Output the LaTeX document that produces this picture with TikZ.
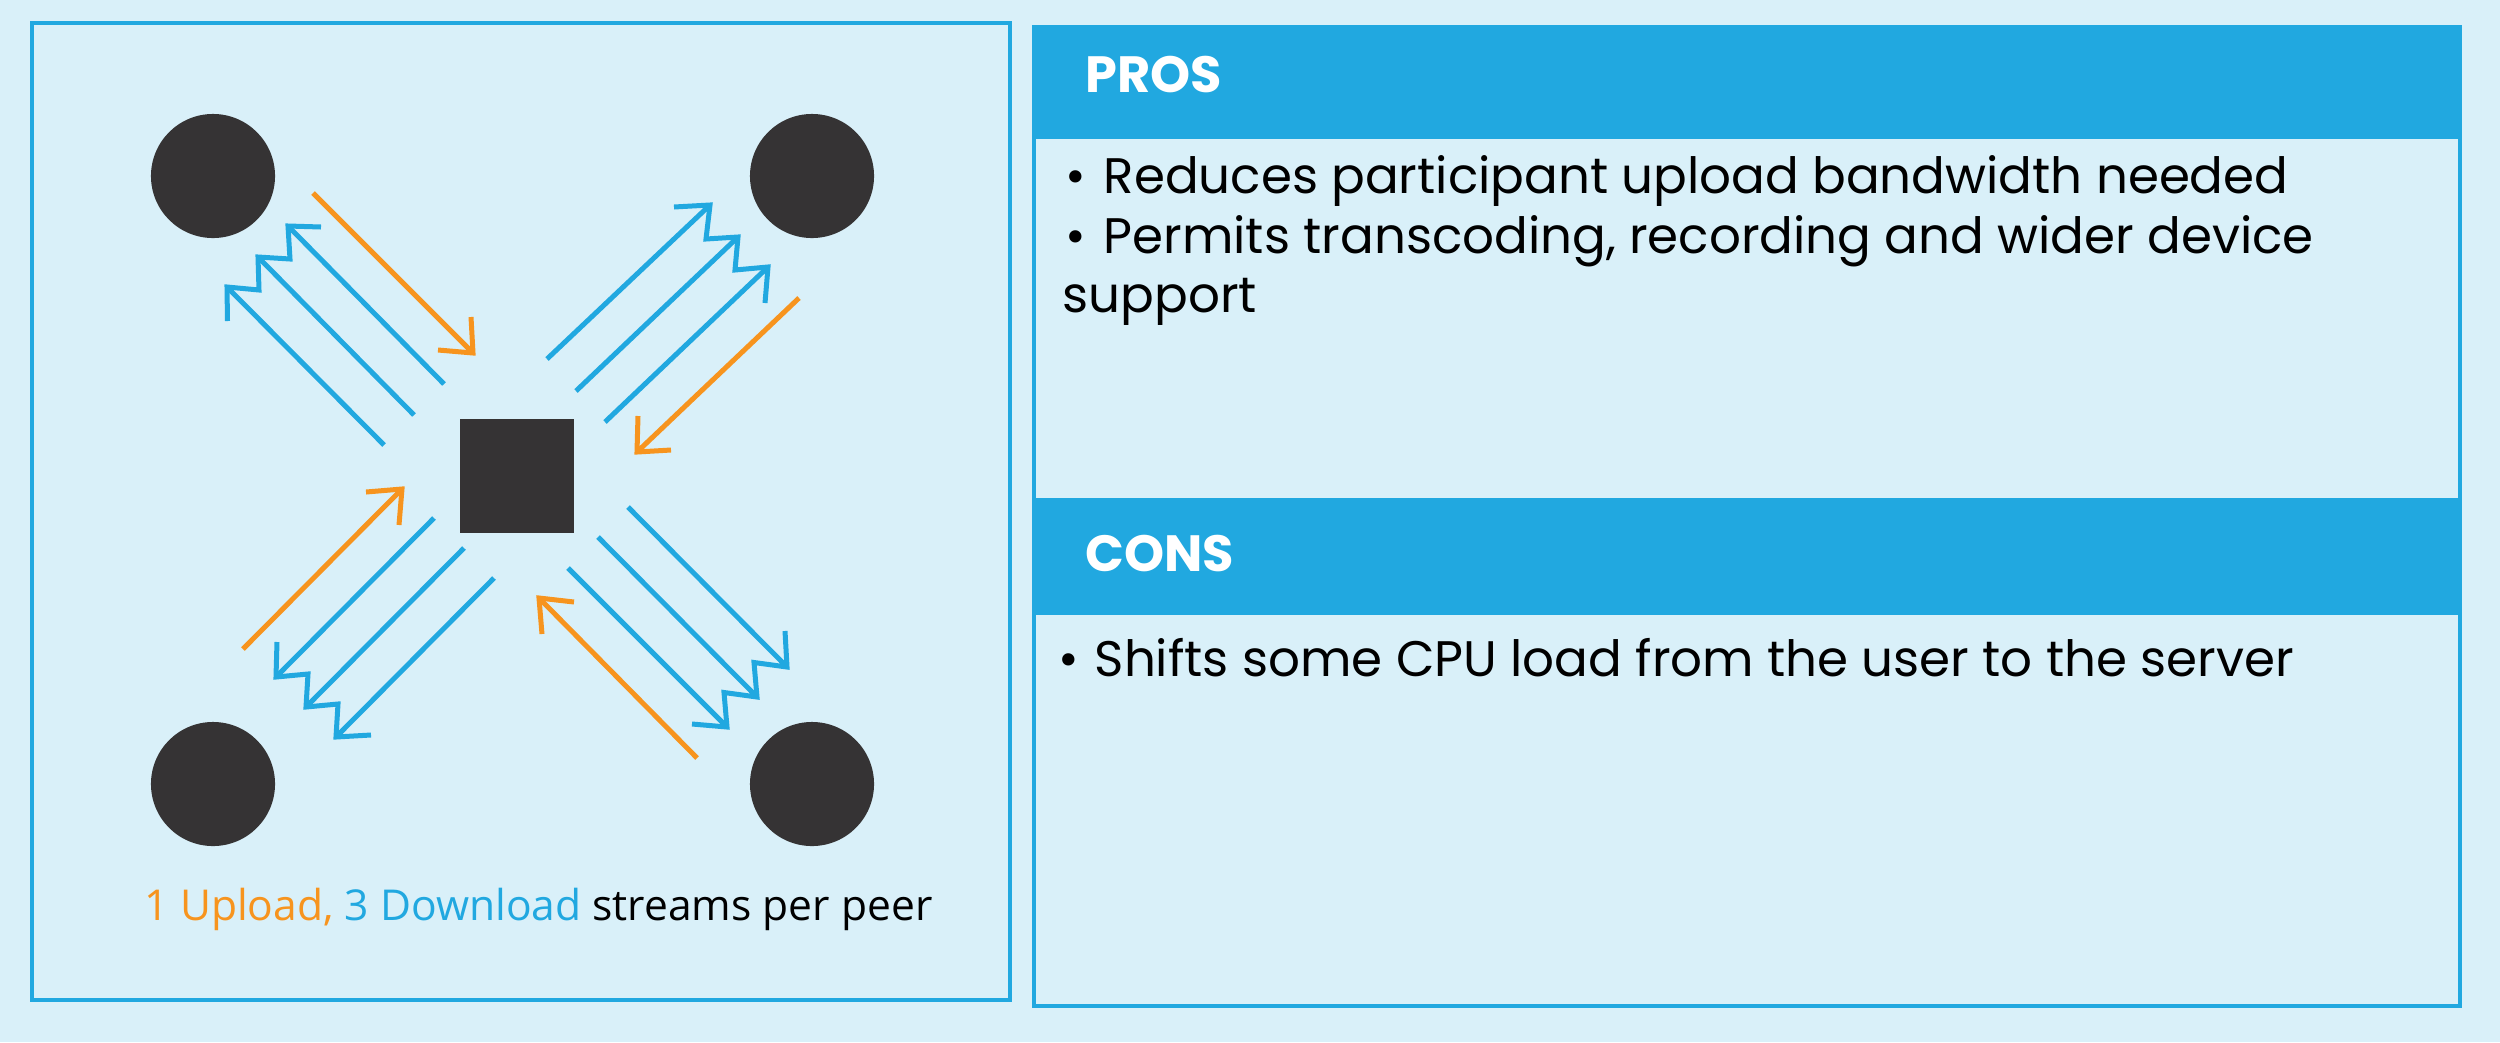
\documentclass[tikz,border=0pt]{standalone}
\usepackage{fontspec}
\setmainfont{Poppins}
\newfontfamily\capfont{Open Sans}
\definecolor{bg}{RGB}{217,240,249}
\definecolor{myblue}{RGB}{33,168,224}
\definecolor{myorange}{RGB}{247,148,30}
\definecolor{dark}{RGB}{53,51,52}
\begin{document}
\begin{tikzpicture}[x=0.01cm,y=-0.01cm,
  peer/.style={circle,fill=dark,minimum size=1.24cm,inner sep=0pt},
  server/.style={rectangle,fill=dark,minimum size=1.14cm,inner sep=0pt},
  flow/.style={line width=0.05cm,line cap=butt,line join=miter},
  up/.style={flow,draw=myorange},
  down/.style={flow,draw=myblue},
  panel/.style={draw=myblue,line width=0.04cm},
  head/.style={fill=myblue},
  bodytext/.style={anchor=base west,inner sep=0pt,font=\fontsize{14.2}{17}\selectfont,text=black},
  headtext/.style={anchor=base west,inner sep=0pt,font=\fontsize{14.5}{17}\selectfont\bfseries,text=white},
  captext/.style={anchor=base west,inner sep=0pt,font=\capfont\fontsize{12.1}{15}\selectfont}
]
\fill[bg] (0,0) rectangle (2500,1042);
\useasboundingbox (0,0) rectangle (2500,1042);
% left panel
\draw[panel] (32,23) rectangle (1010,1000);
\node[peer] (p1) at (213,176) {};
\node[peer] (p2) at (812,176) {};
\node[peer] (p3) at (213,784) {};
\node[peer] (p4) at (812,784) {};
\node[server] (srv) at (517,476) {};
% top-left group
\draw[up] (313,193) -- (473,353);
\draw[up] (471,317) -- (473,353) -- (438,350);
\draw[down] (444,384) -- (288,226);
\draw[down] (414,415) -- (258,257);
\draw[down] (384,445) -- (227,287);
\draw[down] (321,227) -- (288,226) -- (290,259) -- (258,257) -- (259,290) -- (227,287) -- (227.5,321);
% top-right group
\draw[up] (799,298) -- (637,452);
\draw[up] (638,416) -- (637,452) -- (671,450);
\draw[down] (547,359) -- (710,205);
\draw[down] (576,391) -- (738,237);
\draw[down] (605,422) -- (768,267);
\draw[down] (674,207) -- (710,205) -- (706,239) -- (738,237) -- (735,270) -- (768,267) -- (765,303);
% bottom-left group
\draw[up] (243,649) -- (402,489);
\draw[up] (366,492) -- (402,489) -- (399,525);
\draw[down] (434,518) -- (276,677);
\draw[down] (464,548) -- (306,707);
\draw[down] (494,578) -- (336,737);
\draw[down] (277,642) -- (276,677) -- (308,674) -- (306,707) -- (338,704) -- (336,737) -- (371,735);
% bottom-right group
\draw[up] (697,758) -- (539,598);
\draw[up] (574,602) -- (539,598) -- (542,634);
\draw[down] (628,507) -- (787,667);
\draw[down] (598,537) -- (757,697);
\draw[down] (568,568) -- (727,727);
\draw[down] (785,631) -- (787,667) -- (754,662.5) -- (757,697) -- (724,692.5) -- (727,727) -- (692,724);
\node[captext] (cap) at (144,920) {\textcolor{myorange}{1 Upload,} \textcolor{myblue}{3 Download} \textcolor{black}{streams per peer}};
% right panel
\fill[head] (1032,25) rectangle (2462,137);
\draw[panel] (1034,137) rectangle (2460,500);
\fill[head] (1032,500) rectangle (2462,613);
\draw[panel] (1034,613) rectangle (2460,1006);
\node[headtext] (pros) at (1085,92) {PROS};
\node[headtext] (cons) at (1085,571) {CONS};
\node[bodytext] (b1) at (1065,193) {•};
\node[bodytext] (t1) at (1103,193) {Reduces participant upload bandwidth needed};
\node[bodytext] (b2) at (1065,253) {•};
\node[bodytext] (t2) at (1103,253) {Permits transcoding, recording and wider device};
\node[bodytext] (t3) at (1062,312) {support};
\node[bodytext] (b3) at (1058,676) {•};
\node[bodytext] (t4) at (1094,676) {Shifts some CPU load from the user to the server};
\end{tikzpicture}
\end{document}
